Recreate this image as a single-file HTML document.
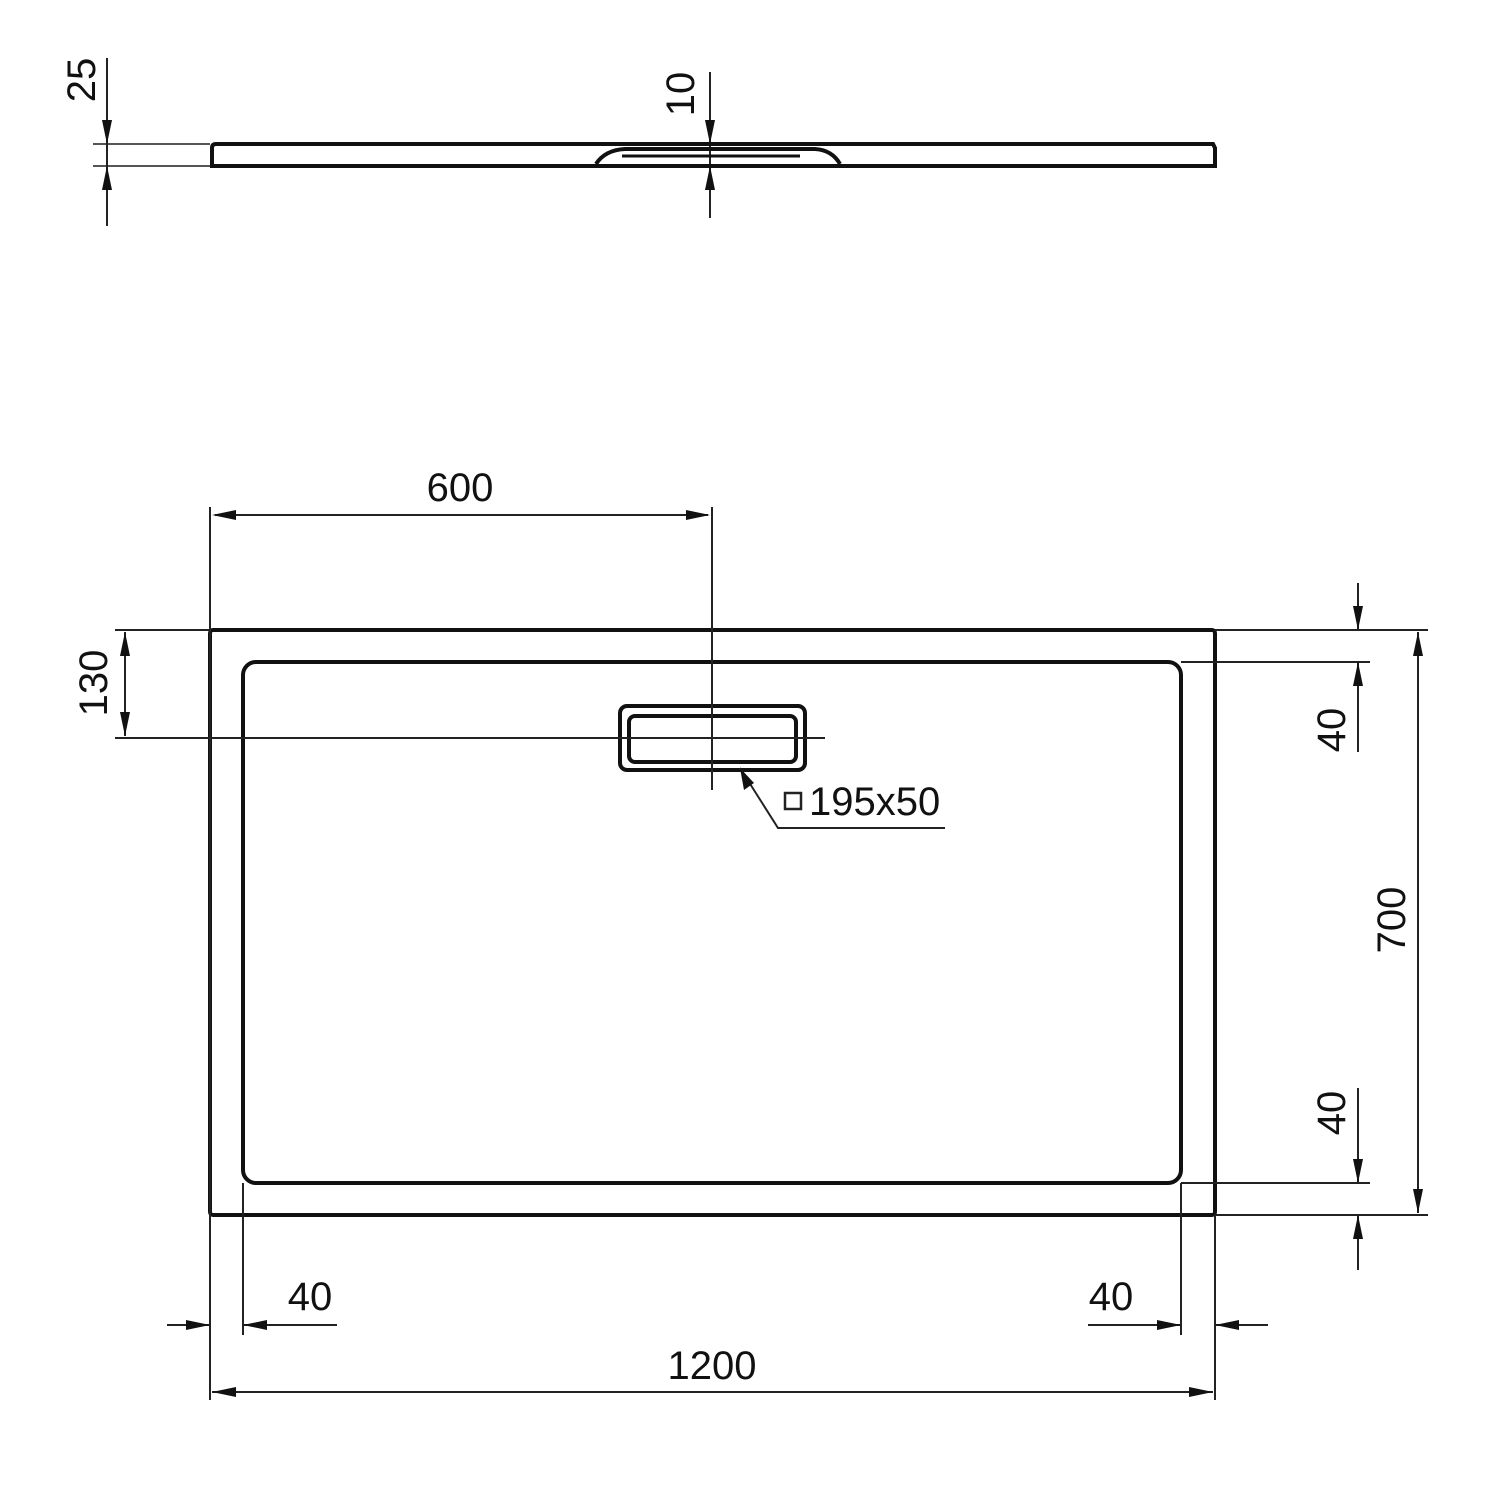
<!DOCTYPE html>
<html><head><meta charset="utf-8"><style>
html,body{margin:0;padding:0;background:#fff;}
svg{display:block;}
text{font-family:"Liberation Sans",Arial,sans-serif;font-size:40px;fill:#111;}
</style></head><body>
<svg width="1500" height="1500" viewBox="0 0 1500 1500" xmlns="http://www.w3.org/2000/svg">
<g stroke="#222" stroke-width="2" fill="none">
<line x1="93" y1="144" x2="210" y2="144" stroke="#555"/>
<line x1="93" y1="166" x2="210" y2="166" stroke="#555"/>
<line x1="107" y1="58" x2="107" y2="226"/>
<line x1="710" y1="72" x2="710" y2="218"/>
</g>
<g stroke="#111" stroke-width="4" fill="none">
<path d="M212 166 L212 148 Q212 144 216 144 L1213 144 L1215 148 L1215 166 Z"/>
<path d="M596 164 Q605 150 625 149 L815 149 Q832 150 840 164"/>
<line x1="622" y1="156" x2="800" y2="156" stroke-width="3"/>
<rect x="210" y="630" width="1005" height="585" rx="3"/>
<rect x="243" y="662" width="938" height="521" rx="13"/>
<rect x="620" y="706" width="185" height="64" rx="7"/>
<rect x="629" y="716" width="167" height="46" rx="6"/>
</g>
<g stroke="#222" stroke-width="2" fill="none">
<line x1="712" y1="507" x2="712" y2="790"/>
<line x1="115" y1="738" x2="825" y2="738"/>
<line x1="210" y1="507" x2="210" y2="1400"/>
<line x1="215" y1="515" x2="708" y2="515"/>
<line x1="115" y1="630" x2="210" y2="630"/>
<line x1="125" y1="632" x2="125" y2="736"/>
<line x1="1215" y1="630" x2="1428" y2="630"/>
<line x1="1181" y1="662" x2="1370" y2="662"/>
<line x1="1181" y1="1183" x2="1370" y2="1183"/>
<line x1="1215" y1="1215" x2="1428" y2="1215"/>
<line x1="1418" y1="632" x2="1418" y2="1213"/>
<line x1="1358" y1="583" x2="1358" y2="630"/>
<line x1="1358" y1="662" x2="1358" y2="752"/>
<line x1="1358" y1="1088" x2="1358" y2="1183"/>
<line x1="1358" y1="1215" x2="1358" y2="1270"/>
<line x1="243" y1="1183" x2="243" y2="1335"/>
<line x1="1181" y1="1183" x2="1181" y2="1335"/>
<line x1="1215" y1="1215" x2="1215" y2="1400"/>
<line x1="167" y1="1325" x2="210" y2="1325"/>
<line x1="243" y1="1325" x2="337" y2="1325"/>
<line x1="1088" y1="1325" x2="1181" y2="1325"/>
<line x1="1215" y1="1325" x2="1268" y2="1325"/>
<line x1="212" y1="1392" x2="1213" y2="1392"/>
<polyline points="740,768 778,828 945,828"/>
<rect x="785" y="793" width="16" height="16" stroke-width="2.5"/>
</g>
<g fill="#111">
<polygon points="107,144 102,120 112,120"/>
<polygon points="107,166 102,190 112,190"/>
<polygon points="710,144 705,120 715,120"/>
<polygon points="710,166 705,190 715,190"/>
<polygon points="212,515 236,510 236,520"/>
<polygon points="710,515 686,510 686,520"/>
<polygon points="125,632 120,656 130,656"/>
<polygon points="125,736 120,712 130,712"/>
<polygon points="1418,632 1413,656 1423,656"/>
<polygon points="1418,1213 1413,1189 1423,1189"/>
<polygon points="1358,630 1353,606 1363,606"/>
<polygon points="1358,662 1353,686 1363,686"/>
<polygon points="1358,1183 1353,1159 1363,1159"/>
<polygon points="1358,1215 1353,1239 1363,1239"/>
<polygon points="210,1325 186,1320 186,1330"/>
<polygon points="243,1325 267,1320 267,1330"/>
<polygon points="1181,1325 1157,1320 1157,1330"/>
<polygon points="1215,1325 1239,1320 1239,1330"/>
<polygon points="212,1392 236,1387 236,1397"/>
<polygon points="1213,1392 1189,1387 1189,1397"/>
<polygon points="740,768 744,790 754,783"/>
</g>
<text x="460" y="501" text-anchor="middle">600</text>
<text x="712" y="1379" text-anchor="middle">1200</text>
<text x="310" y="1310" text-anchor="middle">40</text>
<text x="1111" y="1310" text-anchor="middle">40</text>
<text x="809" y="815">195x50</text>
<text transform="translate(95,80) rotate(-90)" text-anchor="middle">25</text>
<text transform="translate(694,94) rotate(-90)" text-anchor="middle">10</text>
<text transform="translate(107,683) rotate(-90)" text-anchor="middle">130</text>
<text transform="translate(1405,920) rotate(-90)" text-anchor="middle">700</text>
<text transform="translate(1345,730) rotate(-90)" text-anchor="middle">40</text>
<text transform="translate(1345,1113) rotate(-90)" text-anchor="middle">40</text>
</svg>
</body></html>
